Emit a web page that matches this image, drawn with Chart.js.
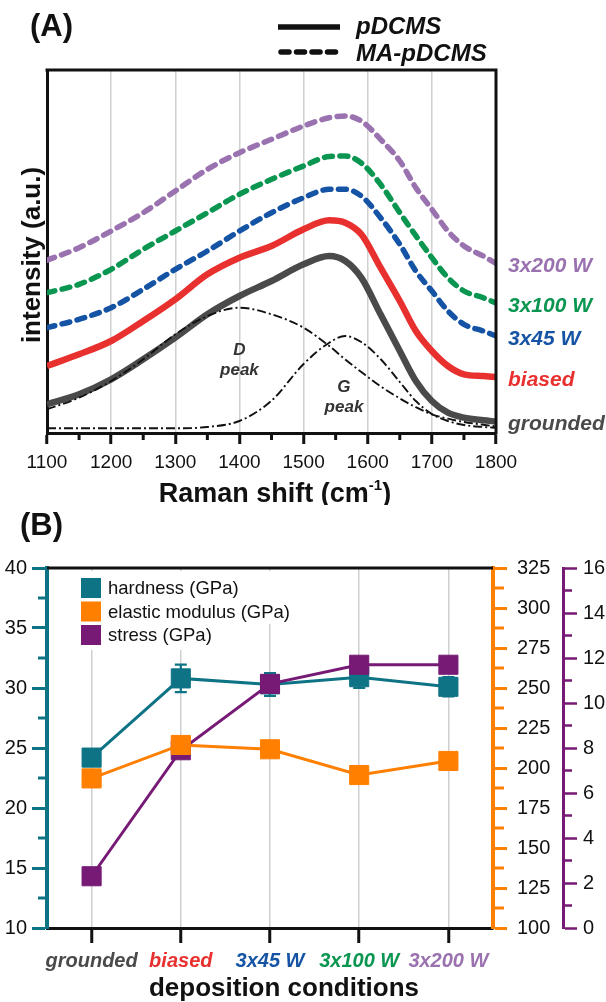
<!DOCTYPE html>
<html><head><meta charset="utf-8">
<script src="https://cdn.jsdelivr.net/npm/chart.js@4.4.1/dist/chart.umd.min.js"></script>
<style>
html,body{margin:0;padding:0;background:#fff;width:606px;height:1002px;overflow:hidden}
canvas{position:absolute;left:0;display:block}
#ca{top:0}
#cb{top:505px}
</style></head><body>
<canvas id="ca" width="606" height="505"></canvas>
<canvas id="cb" width="606" height="497"></canvas>
<script>
const FONT = "'Liberation Sans', Arial, Helvetica, sans-serif";
Chart.defaults.font.family = FONT;
Chart.defaults.color = '#111';

// ---------- Panel A: Raman spectra (a.u.) ----------
const ramanShift = [1100,1150,1200,1250,1300,1350,1400,1450,1500,1540,1565,1590,1620,1650,1675,1700,1725,1750,1780,1800];
const grounded = [28.7,38.7,53.7,73.7,95.3,118.7,137,152,168.7,177,172,155.3,118.7,82,52,32,20.3,15.3,12.7,11.5];
const biased   = [67,78.7,92,112,133.7,158.7,175.3,187,203.7,212.7,210.3,198.7,165.3,132,102,82,67,58.7,57,56];
const w3x45    = [105.3,113.7,125.3,143.7,163.7,182,202,220.3,235.3,243.7,243.7,237,215.3,188.7,162,142,122,108.7,102,97];
const w3x100   = [140.3,148.7,163.7,183.7,202,220.3,238.7,253.7,267,276.5,277,270,248.7,220.3,197.3,175.3,155.3,142,135.3,130];
const w3x200   = [172.7,185.3,202,220.3,242,263.7,280.3,293.7,307,315.3,317,312,293.7,272,245.3,223.7,202,187,177,169.5];
const dPeak    = [23.7,35.3,52,73.7,98.7,117,125.3,118.7,105.3,87,73.5,61,46.7,34.6,25.8,18.7,14.3,11,8.3,6.5];
const gPeak    = [4.7,4.7,4.7,4.7,4.7,6,12,32.3,69,90.3,97,91,74,51,32,19,12,8,6,5.3];
const spectraNames  = ['grounded','biased','3x45 W','3x100 W','3x200 W'];
const spectraColors = ['#4a4a4a','#e8302f','#1553a5','#0a9650','#9a72b0'];
const spectraDashed = [false,false,true,true,true];
const spectra = [grounded, biased, w3x45, w3x100, w3x200];

// ---------- Panel B: mechanical properties ----------
const conditions     = ['grounded','biased','3x45 W','3x100 W','3x200 W'];
const conditionColors= ['#4a4a4a','#e8302f','#1553a5','#0a9650','#9a72b0'];
const hardness       = [24.2,30.8,30.3,30.9,30.1];
const hardnessErr    = [0.5,1.15,0.95,0.9,0.8];
const elasticModulus = [193.5,214.4,211.7,195.6,204.4];
const stress         = [2.3,7.9,10.85,11.7,11.7];

const TEAL = '#0f7386', ORANGE = '#ff7f00', PURPLE = '#761a75';

function pts(arr){ return arr.map((v,i)=>({x:ramanShift[i], y:v})); }

const datasetsA = [
  {label:'D peak', data:pts(dPeak), borderColor:'#111', borderWidth:1.9, borderDash:[9,3,2,3], pointRadius:0, cubicInterpolationMode:'monotone', fill:false},
  {label:'G peak', data:pts(gPeak), borderColor:'#111', borderWidth:1.9, borderDash:[9,3,2,3], pointRadius:0, cubicInterpolationMode:'monotone', fill:false}
].concat(spectra.map((s,i)=>({
  label:spectraNames[i], data:pts(s), borderColor:spectraColors[i],
  borderWidth: spectraDashed[i]?5.5:6.5,
  borderDash: spectraDashed[i]?[8,7.5]:[],
  borderCapStyle: spectraDashed[i]?'round':'butt',
  pointRadius:0, cubicInterpolationMode:'monotone', fill:false
})));

const decorA = {
  id:'decorA',
  afterDraw(chart){
    const {ctx, chartArea:a, scales:{x,y}} = chart;
    ctx.save();
    // frame top/right
    ctx.strokeStyle='#111'; ctx.lineWidth=3; ctx.lineCap='square';
    ctx.beginPath(); ctx.moveTo(a.left,a.top); ctx.lineTo(a.right,a.top); ctx.lineTo(a.right,a.bottom); ctx.stroke();
    // minor ticks
    ctx.lineCap='butt';
    for(let v=1150; v<1800; v+=100){
      const px=x.getPixelForValue(v);
      ctx.beginPath(); ctx.moveTo(px,a.bottom); ctx.lineTo(px,a.bottom+7); ctx.stroke();
    }
    // panel label
    ctx.fillStyle='#111';
    ctx.font='bold 31px '+FONT; ctx.textAlign='left'; ctx.textBaseline='alphabetic';
    ctx.fillText('(A)',30,36);
    // legend
    ctx.lineWidth=5.5;
    ctx.beginPath(); ctx.moveTo(278,27); ctx.lineTo(340,27); ctx.stroke();
    ctx.setLineDash([8,7.5]); ctx.lineCap='round';
    ctx.beginPath(); ctx.moveTo(281,52); ctx.lineTo(340,52); ctx.stroke();
    ctx.setLineDash([]);
    ctx.font='italic bold 24px '+FONT;
    ctx.fillText('pDCMS',356,34);
    ctx.fillText('MA-pDCMS',356,61);
    // series labels at right
    ctx.font='italic bold 21px '+FONT; ctx.textBaseline='middle';
    spectra.forEach((s,i)=>{
      ctx.fillStyle=spectraColors[i];
      ctx.fillText(spectraNames[i], a.right+12, y.getPixelForValue(s[s.length-1])+3);
    });
    // peak labels
    ctx.fillStyle='#333'; ctx.font='italic bold 17px '+FONT; ctx.textAlign='center';
    const dx=x.getPixelForValue(1400), dy=y.getPixelForValue(83);
    ctx.fillText('D',dx,dy); ctx.fillText('peak',dx,dy+20);
    const gx=x.getPixelForValue(1563), gy=y.getPixelForValue(46);
    ctx.fillText('G',gx,gy); ctx.fillText('peak',gx,gy+20);
    // axis titles
    ctx.fillStyle='#111'; ctx.textBaseline='alphabetic';
    ctx.font='bold 27px '+FONT;
    const t1='Raman shift (cm', t3=')';
    const w1=ctx.measureText(t1).width, w3=ctx.measureText(t3).width;
    ctx.font='bold 15px '+FONT; const w2=ctx.measureText('-1').width;
    const tot=w1+w2+w3; let sx=275-tot/2;
    ctx.textAlign='left';
    ctx.font='bold 27px '+FONT; ctx.fillText(t1,sx,502);
    ctx.font='bold 15px '+FONT; ctx.fillText('-1',sx+w1,490);
    ctx.font='bold 27px '+FONT; ctx.fillText(t3,sx+w1+w2,502);
    ctx.translate(40,255); ctx.rotate(-Math.PI/2);
    ctx.textAlign='center'; ctx.font='bold 26px '+FONT;
    ctx.fillText('intensity (a.u.)',0,0);
    ctx.restore();
  }
};

new Chart(document.getElementById('ca'), {
  type:'line',
  data:{datasets:datasetsA},
  options:{
    responsive:false, animation:false, devicePixelRatio:1,
    layout:{padding:{top:70,right:110,left:0,bottom:0}},
    plugins:{legend:{display:false}, tooltip:{enabled:false}},
    scales:{
      x:{type:'linear', min:1100, max:1800,
        ticks:{stepSize:100, font:{size:19}, color:'#111', padding:7, maxRotation:0, callback:v=>String(v)},
        grid:{color:'#d0d0d0', lineWidth:1.5, tickColor:'#111', tickLength:11, tickWidth:3},
        border:{color:'#111', width:3},
        afterFit:s=>{s.height=72;}},
      y:{min:0, max:363, ticks:{display:false}, grid:{display:false},
        border:{color:'#111', width:3},
        afterFit:s=>{s.width=47;}}
    }
  },
  plugins:[decorA]
});

// ---------- Panel B chart ----------
const decorB = {
  id:'decorB',
  beforeDatasetsDraw(chart){
    const {ctx, scales:{x,y}} = chart;
    ctx.save();
    ctx.strokeStyle=TEAL; ctx.lineWidth=2.2;
    hardness.forEach((v,i)=>{
      const px=x.getPixelForValue(i);
      const p1=y.getPixelForValue(v+hardnessErr[i]), p2=y.getPixelForValue(v-hardnessErr[i]);
      ctx.beginPath();
      ctx.moveTo(px,p1); ctx.lineTo(px,p2);
      ctx.moveTo(px-6,p1); ctx.lineTo(px+6,p1);
      ctx.moveTo(px-6,p2); ctx.lineTo(px+6,p2);
      ctx.stroke();
    });
    ctx.restore();
  },
  afterDraw(chart){
    const {ctx, chartArea:a, scales:{y,y1,y2}} = chart;
    ctx.save();
    // top frame
    ctx.strokeStyle='#111'; ctx.lineWidth=3;
    ctx.beginPath(); ctx.moveTo(a.left,a.top); ctx.lineTo(a.right,a.top); ctx.stroke();
    // minor ticks
    ctx.lineWidth=3; ctx.strokeStyle=TEAL;
    for(let v=12.5; v<40; v+=5){ const p=y.getPixelForValue(v); ctx.beginPath(); ctx.moveTo(a.left,p); ctx.lineTo(a.left-9,p); ctx.stroke(); }
    ctx.strokeStyle=ORANGE;
    for(let v=112.5; v<325; v+=25){ const p=y1.getPixelForValue(v); ctx.beginPath(); ctx.moveTo(y1.left,p); ctx.lineTo(y1.left+11,p); ctx.stroke(); }
    ctx.strokeStyle=PURPLE; ctx.lineWidth=2.5;
    for(let v=1; v<16; v+=2){ const p=y2.getPixelForValue(v); ctx.beginPath(); ctx.moveTo(y2.left,p); ctx.lineTo(y2.left+9,p); ctx.stroke(); }
    // legend
    ctx.fillStyle='#fff';
    ctx.fillRect(76,66,244,53);
    ctx.fillRect(76,119,176,26);
    const items=[['hardness (GPa)',TEAL],['elastic modulus (GPa)',ORANGE],['stress (GPa)',PURPLE]];
    ctx.font='18.5px '+FONT; ctx.textBaseline='middle'; ctx.textAlign='left';
    items.forEach((it,i)=>{
      const cy=83+i*23.5;
      ctx.fillStyle=it[1]; ctx.fillRect(81,cy-10,20,20);
      ctx.fillStyle='#111'; ctx.fillText(it[0],108,cy+1);
    });
    // panel label & title
    ctx.textBaseline='alphabetic';
    ctx.font='bold 31px '+FONT; ctx.fillText('(B)',20,30);
    ctx.font='bold 26px '+FONT; ctx.textAlign='center';
    ctx.fillText('deposition conditions',284,491);
    ctx.restore();
  }
};

const ptStyle = (color)=>({borderColor:color, backgroundColor:color, pointBackgroundColor:color, pointBorderColor:color,
  pointStyle:'rect', pointRadius:13.5, pointBorderWidth:1, borderWidth:3, tension:0, fill:false});

new Chart(document.getElementById('cb'), {
  type:'line',
  data:{labels:conditions, datasets:[
    Object.assign({label:'elastic modulus (GPa)', data:elasticModulus, yAxisID:'y1', order:1}, ptStyle(ORANGE)),
    Object.assign({label:'stress (GPa)', data:stress, yAxisID:'y2', order:2}, ptStyle(PURPLE)),
    Object.assign({label:'hardness (GPa)', data:hardness, yAxisID:'y', order:3}, ptStyle(TEAL))
  ]},
  options:{
    responsive:false, animation:false, devicePixelRatio:1,
    layout:{padding:{top:63,left:0,right:0,bottom:0}},
    plugins:{legend:{display:false}, tooltip:{enabled:false}},
    scales:{
      x:{type:'category', offset:true,
        grid:{offset:false, color:'#cfcfcf', lineWidth:1.5, tickColor:'#111', tickWidth:3, tickLength:15},
        border:{color:'#111', width:3},
        ticks:{font:{size:20, weight:'bold', style:'italic'}, color:c=>conditionColors[c.index], padding:6, maxRotation:0, autoSkip:false},
        afterFit:s=>{s.height=74;}},
      y:{position:'left', min:10, max:40,
        ticks:{stepSize:5, font:{size:20}, color:'#111', padding:5},
        grid:{drawOnChartArea:false, color:TEAL, tickLength:15, tickWidth:3},
        border:{color:TEAL, width:4},
        afterFit:s=>{s.width=47;}},
      y1:{position:'right', weight:1, min:100, max:325,
        ticks:{stepSize:25, font:{size:20}, color:'#111', padding:10},
        grid:{drawOnChartArea:false, color:ORANGE, tickLength:14, tickWidth:3},
        border:{color:ORANGE, width:4},
        afterFit:s=>{s.width=70;}},
      y2:{position:'right', weight:2, min:0, max:16,
        ticks:{stepSize:2, font:{size:20}, color:'#111', padding:6},
        grid:{drawOnChartArea:false, color:PURPLE, tickLength:14, tickWidth:2.5},
        border:{color:PURPLE, width:3},
        afterFit:s=>{s.width=43;}}
    }
  },
  plugins:[decorB]
});
</script>
</body></html>
